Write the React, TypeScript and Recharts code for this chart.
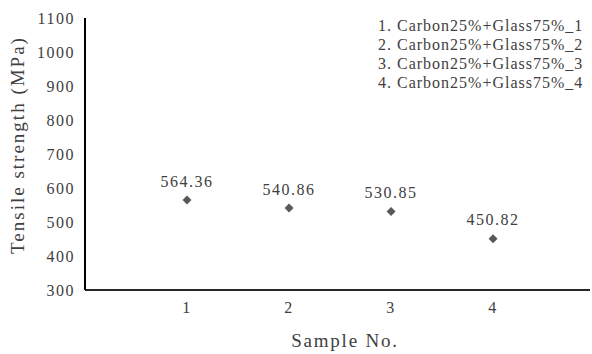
import { LabelList, ScatterChart, Scatter, XAxis, YAxis } from "recharts";

const samples = [1, 2, 3, 4];
const strength = [564.36, 540.86, 530.85, 450.82];
const yTicks = [300, 400, 500, 600, 700, 800, 900, 1000, 1100];
const sampleNames = [
  "1. Carbon25%+Glass75%_1",
  "2. Carbon25%+Glass75%_2",
  "3. Carbon25%+Glass75%_3",
  "4. Carbon25%+Glass75%_4",
];

const data = samples.map((s, i) => ({ sample: s, value: strength[i] }));

const FONT = "'Liberation Serif', serif";
const TEXT = "#404040";

const Diamond = (props: any) => {
  const { cx, cy } = props;
  const r = 4.5;
  return (
    <polygon
      points={`${cx},${cy - r} ${cx + r},${cy} ${cx},${cy + r} ${cx - r},${cy}`}
      fill="#595959"
    />
  );
};

export default function App() {
  return (
    <div style={{ position: "absolute", left: 0, top: 0, width: 592, height: 354, background: "#fff" }}>
      <ScatterChart width={592} height={354} margin={{ top: 18, right: 2, left: 0, bottom: 34 }}>
        <XAxis
          type="number"
          dataKey="sample"
          domain={[0, 4.95]}
          ticks={samples}
          tickLine={false}
          tickMargin={6}
          axisLine={{ stroke: "#262626", strokeWidth: 2 }}
          tick={{ fill: TEXT, fontFamily: FONT, fontSize: 16, letterSpacing: 1.5 }}
          label={{
            content: () => (
              <text x={345} y={347} textAnchor="middle" fill={TEXT} fontFamily={FONT} fontSize={19} letterSpacing={1.8}>
                Sample No.
              </text>
            ),
          }}
        />
        <YAxis
          type="number"
          dataKey="value"
          domain={[300, 1100]}
          ticks={yTicks}
          interval={0}
          width={85}
          tickLine={false}
          tickMargin={4}
          axisLine={{ stroke: "#000", strokeWidth: 2 }}
          tick={{ fill: TEXT, fontFamily: FONT, fontSize: 16, letterSpacing: 1.5 }}
          label={{
            content: () => (
              <text
                x={0}
                y={0}
                transform="translate(24,145) rotate(-90)"
                textAnchor="middle"
                fill={TEXT}
                fontFamily={FONT}
                fontSize={19}
                letterSpacing={2}
              >
                Tensile strength (MPa)
              </text>
            ),
          }}
        />
        <Scatter data={data} shape={Diamond} isAnimationActive={false}>
          <LabelList
            dataKey="value"
            position="top"
            offset={9}
            fill={TEXT}
            fontFamily={FONT}
            fontSize={16}
            letterSpacing={1.5}
          />
        </Scatter>
      </ScatterChart>
      <div
        style={{
          position: "absolute",
          top: 16,
          left: 378,
          fontFamily: FONT,
          fontSize: 16,
          letterSpacing: 1,
          color: TEXT,
          lineHeight: "19px",
          whiteSpace: "nowrap",
        }}
      >
        {sampleNames.map(n => (
          <div key={n}>{n}</div>
        ))}
      </div>
    </div>
  );
}
